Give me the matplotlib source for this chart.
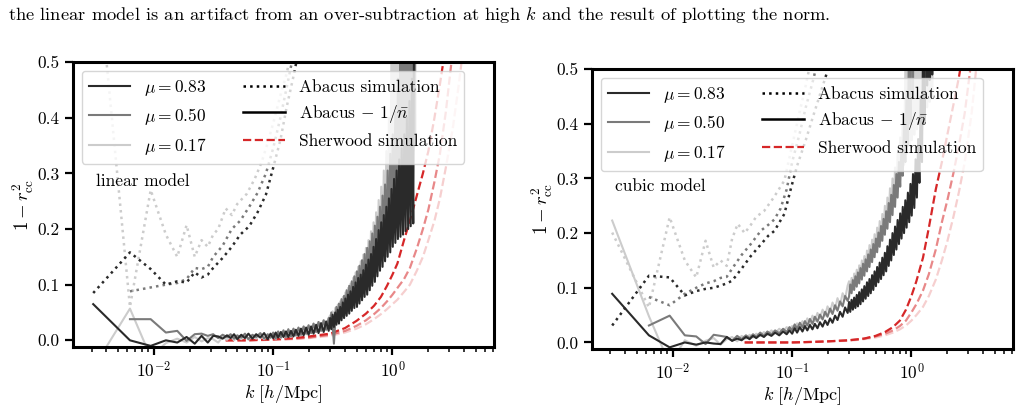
import numpy as np
import matplotlib
matplotlib.use("Agg")
import matplotlib.pyplot as plt
from matplotlib.lines import Line2D

plt.rcParams['font.family'] = 'serif'
plt.rcParams['font.serif'] = ['cmr10']
plt.rcParams['mathtext.fontset'] = 'cm'
plt.rcParams['axes.formatter.use_mathtext'] = True
plt.rcParams['font.size'] = 12.5

nan = np.nan

# ---------------- data ----------------
mu_labels = [r'$\mu=0.83$', r'$\mu=0.50$', r'$\mu=0.17$']
mu_colors = ['#2a2a2a', '#7a7a7a', '#cccccc']
sher_alpha = [1.0, 0.55, 0.22]

# k grid of the noisy "Abacus - 1/n" curves (low / mid / high part)
k_low = [0.0031, 0.0063, 0.0094, 0.0126, 0.0157, 0.0188, 0.022, 0.0251, 0.0283, 0.0314,
         0.0346, 0.0377, 0.041, 0.044, 0.047, 0.05, 0.054, 0.058, 0.062, 0.067,
         0.072, 0.078, 0.084, 0.09, 0.095]
k_mid = [0.1, 0.105, 0.11, 0.116, 0.122, 0.128, 0.134, 0.141, 0.148, 0.155,
         0.163, 0.171, 0.18, 0.189, 0.198, 0.208, 0.218, 0.229, 0.24, 0.252,
         0.265, 0.278, 0.292]
k_high = [0.3, 0.307, 0.315, 0.323, 0.331, 0.339, 0.348, 0.356, 0.365, 0.374,
          0.384, 0.393, 0.403, 0.413, 0.424, 0.434, 0.445, 0.456, 0.468, 0.479,
          0.491, 0.504, 0.516, 0.529, 0.542, 0.556, 0.57, 0.584, 0.599, 0.614,
          0.629, 0.645, 0.661, 0.677, 0.694, 0.712, 0.729, 0.748, 0.766, 0.786,
          0.805, 0.826, 0.846, 0.867, 0.889, 0.911, 0.934, 0.958, 0.982, 1.006,
          1.031, 1.057, 1.084, 1.111, 1.139, 1.167, 1.196, 1.226, 1.257, 1.288,
          1.321, 1.354, 1.388, 1.422, 1.458, 1.494, 1.532, 1.57]
k_noisy = k_low + k_mid + k_high

# linear model, Abacus - 1/n
lin_sub_083 = [0.065, 0.000, -0.010, 0.000, -0.004, 0.006, -0.006, 0.008, -0.004, 0.008,
               0.007, 0.003, 0.009, 0.004, 0.011, 0.002, 0.010, 0.004, 0.012, 0.003,
               0.011, 0.005, 0.013, 0.002, 0.012,
               0.004, 0.014, 0.005, 0.015, 0.006, 0.016, 0.006, 0.017, 0.007, 0.019,
               0.008, 0.021, 0.009, 0.023, 0.010, 0.025, 0.012, 0.028, 0.013, 0.031,
               0.015, 0.034, 0.017,
               0.040, 0.020, 0.046, 0.024, 0.050, 0.028, 0.055, 0.030, 0.060, 0.036,
               0.068, 0.040, 0.075, 0.044, 0.082, 0.048, 0.088, 0.053, 0.096, 0.058,
               0.104, 0.060, 0.112, 0.066, 0.118, 0.072, 0.126, 0.078, 0.136, 0.082,
               0.145, 0.090, 0.155, 0.098, 0.168, 0.105, 0.182, 0.115, 0.198, 0.125,
               0.212, 0.132, 0.225, 0.142, 0.240, 0.150, 0.255, 0.158, 0.272, 0.168,
               0.290, 0.175, 0.305, 0.182, 0.325, 0.186, 0.345, 0.190, 0.370, 0.196,
               0.400, 0.200, 0.430, 0.205, 0.470, 0.210, 0.800, 1.000]
lin_sub_050 = [nan, 0.038, 0.038, 0.014, 0.017, -0.001, 0.011, 0.012, 0.008, 0.011,
               0.004, 0.010, 0.006, 0.011, 0.003, 0.009, 0.005, 0.012, 0.002, 0.010,
               0.006, 0.013, 0.003, 0.011, 0.005,
               0.014, 0.003, 0.016, 0.005, 0.018, 0.006, 0.020, 0.007, 0.021, 0.009,
               0.023, 0.010, 0.025, 0.012, 0.027, 0.013, 0.030, 0.015, 0.033, 0.017,
               0.036, 0.019, 0.040,
               0.022, 0.050, 0.028, -0.006, 0.030, 0.060, 0.036, 0.066, 0.040, 0.074,
               0.044, 0.080, 0.050, 0.090, 0.054, 0.098, 0.060, 0.106, 0.065, 0.115,
               0.070, 0.124, 0.076, 0.134, 0.082, 0.144, 0.090, 0.155, 0.096, 0.166,
               0.104, 0.178, 0.112, 0.192, 0.120, 0.206, 0.130, 0.222, 0.140, 0.240,
               0.150, 0.260, 0.160, 0.280, 0.172, 0.305, 0.182, 0.335, 0.192, 0.370,
               0.205, 0.410, 0.220, 0.470, 0.240, 0.600, 0.260, 0.800, 0.280, 1.000,
               0.300, 1.000, 0.310, 1.000, 0.330, 1.000, 0.350, 1.000]
lin_sub_017 = [-0.050, 0.057, -0.030, -0.005, 0.003, -0.004, 0.006, -0.002, 0.004, 0.002,
               -0.004, 0.006, 0.001, 0.008, 0.000, 0.007, 0.002, 0.009, 0.001, 0.008,
               0.003, 0.010, 0.002, 0.009, 0.004,
               0.012, 0.002, 0.014, 0.004, 0.016, 0.005, 0.018, 0.006, 0.020, 0.008,
               0.022, 0.009, 0.024, 0.011, 0.027, 0.013, 0.030, 0.015, 0.033, 0.017,
               0.036, 0.019, 0.040,
               0.045, 0.025, 0.052, 0.028, 0.058, 0.032, 0.064, 0.036, 0.070, 0.040,
               0.078, 0.045, 0.086, 0.050, 0.094, 0.055, 0.102, 0.060, 0.112, 0.066,
               0.122, 0.072, 0.132, 0.078, 0.142, 0.085, 0.154, 0.092, 0.166, 0.100,
               0.180, 0.108, 0.196, 0.118, 0.212, 0.128, 0.230, 0.140, 0.252, 0.152,
               0.276, 0.165, 0.305, 0.180, 0.340, 0.195, 0.400, 0.210, 0.550, 0.230,
               0.800, 0.250, 1.000, 0.270, 1.000, 0.290, 1.000, 0.300, 1.000, 0.310,
               1.000, 0.320, 1.000, 0.330, 1.000, 0.340, 1.000, 0.350]

# cubic model, Abacus - 1/n
cub_sub_083 = [0.089, 0.013, -0.009, 0.000, -0.004, 0.000, -0.002, -0.003, 0.010, 0.003,
               0.007, 0.004, 0.010, 0.006, 0.012, 0.008, 0.014, 0.010, 0.016, 0.012,
               0.018, 0.013, 0.020, 0.015, 0.022,
               0.016, 0.026, 0.018, 0.028, 0.020, 0.030, 0.022, 0.032, 0.024, 0.034,
               0.026, 0.037, 0.029, 0.040, 0.032, 0.044, 0.036, 0.049, 0.041, 0.056,
               0.047, 0.064, 0.054,
               0.074, 0.056, 0.078, 0.060, 0.082, 0.063, 0.087, 0.066, 0.092, 0.070,
               0.097, 0.075, 0.103, 0.080, 0.110, 0.085, 0.116, 0.090, 0.123, 0.096,
               0.130, 0.103, 0.138, 0.110, 0.146, 0.116, 0.155, 0.123, 0.164, 0.130,
               0.176, 0.140, 0.188, 0.150, 0.200, 0.160, 0.212, 0.170, 0.224, 0.180,
               0.236, 0.190, 0.248, 0.200, 0.260, 0.210, 0.274, 0.220, 0.290, 0.232,
               0.308, 0.246, 0.335, 0.265, 0.372, 0.292, 0.450, 0.330, 0.600, 0.400,
               0.800, 0.470, 1.000, 0.480, 1.000, 0.490, 1.000, nan]
cub_sub_050 = [nan, 0.031, 0.049, 0.013, 0.011, -0.003, 0.014, 0.012, 0.010, 0.003,
               0.012, 0.006, 0.013, 0.008, 0.015, 0.010, 0.018, 0.012, 0.020, 0.015,
               0.022, 0.017, 0.025, 0.019, 0.028,
               0.022, 0.033, 0.025, 0.036, 0.028, 0.039, 0.031, 0.043, 0.034, 0.047,
               0.038, 0.051, 0.042, 0.056, 0.047, 0.062, 0.052, 0.068, 0.058, 0.075,
               0.066, 0.085, 0.076,
               0.084, 0.106, 0.090, 0.114, 0.096, 0.121, 0.102, 0.128, 0.108, 0.136,
               0.115, 0.144, 0.122, 0.152, 0.130, 0.161, 0.138, 0.170, 0.147, 0.180,
               0.156, 0.190, 0.165, 0.201, 0.175, 0.213, 0.186, 0.226, 0.197, 0.240,
               0.208, 0.255, 0.220, 0.270, 0.233, 0.288, 0.248, 0.308, 0.265, 0.330,
               0.285, 0.360, 0.305, 0.400, 0.330, 0.460, 0.360, 0.600, 0.400, 0.900,
               0.450, 1.000, nan, nan, nan, nan, nan, nan, nan, nan,
               nan, nan, nan, nan, nan, nan, nan, nan]
cub_sub_017 = [0.223, 0.048, -0.040, 0.004, -0.006, 0.003, 0.008, -0.004, 0.006, 0.010,
               0.002, 0.012, 0.007, 0.014, 0.009, 0.016, 0.012, 0.019, 0.014, 0.022,
               0.017, 0.025, 0.020, 0.028, 0.023,
               0.030, 0.024, 0.035, 0.027, 0.039, 0.031, 0.044, 0.035, 0.049, 0.039,
               0.054, 0.044, 0.060, 0.049, 0.066, 0.055, 0.073, 0.061, 0.081, 0.068,
               0.090, 0.080, 0.104,
               0.112, 0.092, 0.118, 0.098, 0.126, 0.104, 0.133, 0.110, 0.141, 0.117,
               0.150, 0.124, 0.158, 0.132, 0.168, 0.140, 0.178, 0.148, 0.188, 0.157,
               0.198, 0.166, 0.210, 0.176, 0.222, 0.186, 0.235, 0.198, 0.250, 0.210,
               0.265, 0.222, 0.282, 0.236, 0.300, 0.250, 0.320, 0.266, 0.345, 0.285,
               0.375, 0.305, 0.420, 0.325, 0.500, 0.345, 0.700, 0.360, 1.000, 0.370,
               1.000, 0.380, 1.000, 0.390, 1.000, 0.400, 1.000, 0.410, 1.000, 0.420,
               1.000, 0.430, 1.000, 0.440, 1.000, 0.450, 1.000, nan]

# Abacus simulation (dotted)
lin_sim_k_083 = [0.0031, 0.0063, 0.0094, 0.0126, 0.0157, 0.0188, 0.022, 0.0251, 0.0283, 0.0314,
                 0.0377, 0.045, 0.053, 0.063, 0.074, 0.087, 0.1, 0.115, 0.13, 0.15, 0.17]
lin_sim_083 = [0.085, 0.158, 0.128, 0.100, 0.106, 0.104, 0.122, 0.113, 0.118, 0.130,
               0.148, 0.168, 0.190, 0.205, 0.230, 0.262, 0.310, 0.360, 0.420, 0.480, 0.540]
lin_sim_k_050 = [0.0063, 0.0094, 0.0126, 0.0157, 0.0188, 0.022, 0.0251, 0.0283, 0.0314,
                 0.0377, 0.045, 0.053, 0.063, 0.074, 0.087, 0.1, 0.115, 0.13, 0.15]
lin_sim_050 = [0.088, 0.095, 0.100, 0.103, 0.110, 0.130, 0.128, 0.132, 0.150,
               0.170, 0.200, 0.215, 0.240, 0.265, 0.300, 0.345, 0.400, 0.455, 0.520]
lin_sim_k_017 = [0.0031, 0.0063, 0.0094, 0.0126, 0.0157, 0.0188, 0.022, 0.0251, 0.0283, 0.0314,
                 0.0346, 0.04, 0.045, 0.05, 0.06, 0.07, 0.08, 0.09, 0.1, 0.115, 0.13, 0.145]
lin_sim_017 = [0.750, 0.060, 0.270, 0.190, 0.150, 0.207, 0.150, 0.180, 0.168, 0.190,
               0.200, 0.237, 0.225, 0.245, 0.263, 0.290, 0.320, 0.355, 0.390, 0.440, 0.480, 0.530]

cub_sim_k_083 = [0.0031, 0.0063, 0.0094, 0.0126, 0.0157, 0.0188, 0.022, 0.0251, 0.0283, 0.0314,
                 0.0377, 0.045, 0.055, 0.063, 0.071, 0.086, 0.098, 0.11, 0.13, 0.15, 0.175, 0.2, 0.22]
cub_sim_083 = [0.031, 0.122, 0.119, 0.086, 0.094, 0.098, 0.100, 0.104, 0.108, 0.113,
               0.135, 0.158, 0.180, 0.195, 0.204, 0.235, 0.283, 0.323, 0.370, 0.414, 0.460, 0.500, 0.540]
cub_sim_k_050 = [0.0063, 0.0094, 0.0126, 0.0157, 0.0188, 0.022, 0.0251, 0.0283, 0.0314,
                 0.0377, 0.045, 0.055, 0.063, 0.071, 0.08, 0.09, 0.1, 0.115, 0.13, 0.15, 0.17]
cub_sim_050 = [0.083, 0.068, 0.089, 0.100, 0.108, 0.112, 0.118, 0.120, 0.135,
               0.160, 0.180, 0.205, 0.215, 0.225, 0.245, 0.280, 0.330, 0.380, 0.430, 0.480, 0.530]
cub_sim_k_017 = [0.0031, 0.0063, 0.0094, 0.0126, 0.0157, 0.0188, 0.022, 0.0251, 0.0283, 0.0314,
                 0.035, 0.04, 0.045, 0.05, 0.058, 0.07, 0.086, 0.1, 0.115, 0.13, 0.145]
cub_sim_017 = [0.201, 0.064, 0.229, 0.150, 0.119, 0.186, 0.137, 0.150, 0.140, 0.190,
               0.217, 0.200, 0.215, 0.230, 0.240, 0.265, 0.296, 0.360, 0.420, 0.470, 0.520]

# Sherwood simulation (red dashed)
k_sher = [0.04, 0.06, 0.1, 0.15, 0.2, 0.3, 0.4, 0.5, 0.6, 0.7, 0.8, 0.9, 1.0, 1.1,
          1.25, 1.4, 1.6, 1.8, 2.0, 2.25, 2.5, 2.8, 3.2, 3.6, 4.0]
lin_sher_083 = [0.0, 0.0, 0.002, 0.004, 0.007, 0.012, 0.022, 0.035, 0.048, 0.062, 0.078, 0.098,
                0.118, 0.138, 0.180, 0.215, 0.260, 0.300, 0.340, 0.400, 0.460, 0.530, 0.620, 0.700, 0.800]
lin_sher_050 = [0.0, 0.0, 0.001, 0.003, 0.005, 0.010, 0.017, 0.026, 0.036, 0.047, 0.058, 0.070,
                0.082, 0.094, 0.110, 0.130, 0.165, 0.200, 0.235, 0.285, 0.335, 0.410, 0.520, 0.600, 0.700]
lin_sher_017 = [0.0, 0.0, 0.001, 0.002, 0.004, 0.008, 0.014, 0.021, 0.029, 0.038, 0.047, 0.056,
                0.065, 0.073, 0.087, 0.100, 0.125, 0.150, 0.180, 0.215, 0.255, 0.310, 0.380, 0.460, 0.540]
cub_sher_083 = [0.0, 0.0, 0.0, 0.001, 0.002, 0.004, 0.007, 0.012, 0.019, 0.028, 0.040, 0.060,
                0.085, 0.112, 0.155, 0.210, 0.280, 0.330, 0.380, 0.435, 0.485, 0.550, 0.650, 0.750, 0.850]
cub_sher_050 = [0.0, 0.0, 0.0, 0.001, 0.002, 0.004, 0.007, 0.011, 0.016, 0.022, 0.030, 0.040,
                0.055, 0.070, 0.095, 0.125, 0.170, 0.220, 0.260, 0.310, 0.360, 0.420, 0.520, 0.620, 0.720]
cub_sher_017 = [0.0, 0.0, 0.0, 0.001, 0.002, 0.003, 0.006, 0.009, 0.013, 0.018, 0.024, 0.031,
                0.040, 0.050, 0.065, 0.085, 0.115, 0.150, 0.185, 0.230, 0.275, 0.330, 0.420, 0.530, 0.620]

caption = ("the linear model is an artifact from an over-subtraction at high $k$ "
           "and the result of plotting the norm.")


def draw_panel(ax, subs, sims, shers, label):
    # Sherwood first (faint ones at the back)
    for i in [2, 1, 0]:
        ax.plot(k_sher, shers[i], ls='--', lw=1.6, color='tab:red', alpha=sher_alpha[i])
    for i in [2, 1, 0]:
        ks, ys = sims[i]
        ax.plot(ks, ys, ls=':', lw=1.8, color=mu_colors[i])
    for i in [2, 1, 0]:
        ax.plot(k_noisy, subs[i], ls='-', lw=1.5, color=mu_colors[i])

    ax.set_xscale('log')
    ax.set_xlim(0.0021, 7.1)
    ax.set_ylim(-0.012, 0.5)
    ax.set_yticks([0.0, 0.1, 0.2, 0.3, 0.4, 0.5])
    ax.yaxis.set_major_formatter(matplotlib.ticker.FormatStrFormatter('%.1f'))
    for s in ax.spines.values():
        s.set_linewidth(2.2)
    ax.tick_params(which='major', length=6, width=1.6, labelsize=12.5)
    ax.tick_params(which='minor', length=3.5, width=1.1)
    ax.set_xlabel(r'$k\ [h/\mathrm{Mpc}]$', fontsize=13, labelpad=2)
    ax.set_ylabel(r'$1-r_{\rm cc}^2$', fontsize=13.5, labelpad=1)
    ax.text(0.055, 0.58, label, transform=ax.transAxes, fontsize=12.5, va='center')

    handles = [Line2D([], [], color=mu_colors[i], lw=1.5) for i in range(3)]
    handles += [Line2D([], [], color='black', ls=':', lw=1.8),
                Line2D([], [], color='black', ls='-', lw=1.8),
                Line2D([], [], color='tab:red', ls='--', lw=1.6)]
    labels = mu_labels + ['Abacus simulation', r'Abacus $-$ $1/\bar{n}$',
                          'Sherwood simulation']
    ax.legend(handles, labels, ncol=2, loc='upper left', fontsize=12.5,
              handlelength=2.4, handletextpad=0.8, columnspacing=2.1)


fig = plt.figure(figsize=(10.23, 4.08), dpi=100)
ax1 = fig.add_axes([0.0714, 0.1495, 0.4115, 0.6985])
ax2 = fig.add_axes([0.5787, 0.1446, 0.4115, 0.686])

draw_panel(ax1, [lin_sub_083, lin_sub_050, lin_sub_017],
           [(lin_sim_k_083, lin_sim_083), (lin_sim_k_050, lin_sim_050), (lin_sim_k_017, lin_sim_017)],
           [lin_sher_083, lin_sher_050, lin_sher_017], 'linear model')
draw_panel(ax2, [cub_sub_083, cub_sub_050, cub_sub_017],
           [(cub_sim_k_083, cub_sim_083), (cub_sim_k_050, cub_sim_050), (cub_sim_k_017, cub_sim_017)],
           [cub_sher_083, cub_sher_050, cub_sher_017], 'cubic model')

fig.text(0.008, 0.963, caption, fontsize=13.3, va='center', ha='left')

fig.savefig('out.png', dpi=100)
